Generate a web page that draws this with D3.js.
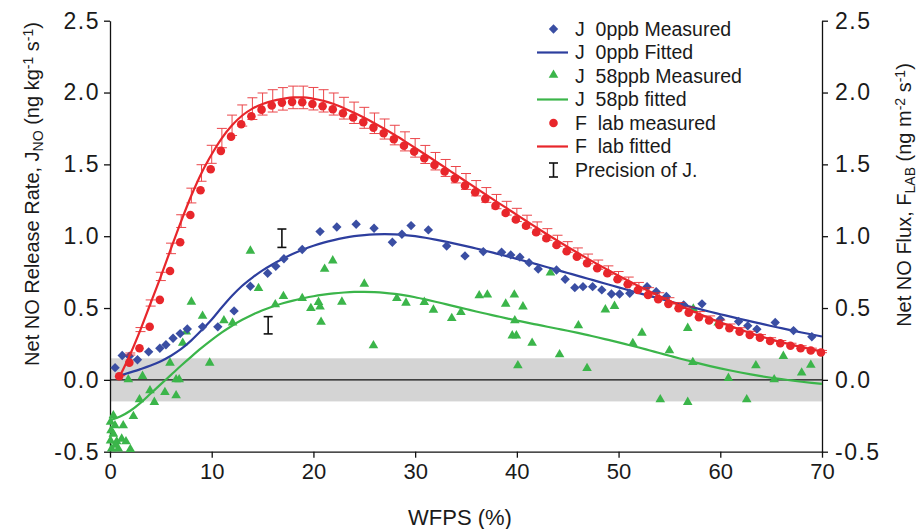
<!DOCTYPE html>
<html>
<head>
<meta charset="utf-8">
<script src="https://cdn.jsdelivr.net/npm/d3@7"></script>
<style>
  body { margin: 0; background: #fff; }
  svg text { font-family: "Liberation Sans", Arial, Helvetica, sans-serif; fill: #1a1a1a; }
</style>
</head>
<body>
<svg id="chart" width="919" height="529"></svg>
<script>
// ---- Axis ticks ----
const xTicks = [0, 10, 20, 30, 40, 50, 60, 70];
const yTicks = [-0.5, 0.0, 0.5, 1.0, 1.5, 2.0, 2.5];

// ---- Fitted curves (sampled every 1 % WFPS) ----
const fitWfps = [0,1,2,3,4,5,6,7,8,9,10,11,12,13,14,15,16,17,18,19,20,21,22,23,24,25,26,27,28,29,30,
  31,32,33,34,35,36,37,38,39,40,41,42,43,44,45,46,47,48,49,50,51,52,53,54,55,56,57,58,59,60,
  61,62,63,64,65,66,67,68,69,70];

const flabFitted = [null,0.03,0.18,0.35,0.535,0.72,0.915,1.105,1.283,1.44,1.57,1.683,1.772,1.84,1.888,1.92,
  1.942,1.956,1.966,1.966,1.957,1.942,1.92,1.891,1.859,1.824,1.786,1.746,1.704,1.66,1.615,
  1.569,1.522,1.475,1.428,1.381,1.334,1.287,1.241,1.195,1.148,1.102,1.057,1.012,0.968,0.925,
  0.883,0.842,0.802,0.763,0.725,0.688,0.652,0.617,0.583,0.55,0.518,0.487,0.457,0.428,0.40,
  0.374,0.349,0.325,0.303,0.282,0.263,0.245,0.228,0.212,0.197];

const j0Fitted = [null,0.03,0.052,0.075,0.1,0.13,0.168,0.215,0.275,0.345,0.42,0.505,0.585,0.655,0.712,0.762,
  0.805,0.843,0.877,0.907,0.933,0.955,0.973,0.988,1.0,1.008,1.013,1.015,1.013,1.008,1.0,
  0.989,0.976,0.962,0.947,0.931,0.914,0.897,0.879,0.861,0.842,0.823,0.804,0.784,0.764,0.744,
  0.724,0.704,0.684,0.664,0.644,0.624,0.604,0.585,0.566,0.547,0.528,0.51,0.492,0.474,0.457,
  0.44,0.423,0.407,0.391,0.375,0.36,0.345,0.33,0.316,0.302];

const j58Fitted = [-0.28,-0.255,-0.215,-0.16,-0.095,-0.03,0.035,0.1,0.162,0.222,0.278,0.33,0.377,0.418,0.454,0.485,
  0.511,0.533,0.552,0.568,0.582,0.593,0.602,0.608,0.612,0.613,0.611,0.606,0.598,0.588,0.575,
  0.56,0.544,0.527,0.51,0.493,0.476,0.46,0.444,0.428,0.413,0.398,0.384,0.37,0.356,0.342,
  0.327,0.311,0.295,0.278,0.261,0.243,0.225,0.206,0.187,0.168,0.149,0.131,0.113,0.096,0.08,
  0.065,0.051,0.038,0.026,0.015,0.005,-0.004,-0.013,-0.021,-0.028];

// relative precision of the lab flux, shown as error bars on its fitted curve
const flabRelPrecision = 0.04;

// ---- F lab measured ----
const flabWfps = [0.9,1.9,2.9,3.9,4.9,5.9,6.9,7.9,8.9,9.9,10.9,11.9,12.9,13.9,14.9,15.9,16.9,17.9,18.9,19.9,
  20.9,21.9,22.9,23.9,24.9,25.9,26.9,27.9,28.9,29.9,30.9,31.9,32.9,33.9,34.9,35.9,36.9,37.9,38.9,39.9,
  40.9,41.9,42.9,43.9,44.9,45.9,46.9,47.9,48.9,49.9,50.9,51.9,52.9,53.9,54.9,55.9,56.9,57.9,58.9,59.9,
  60.9,61.9,62.9,63.9,64.9,65.9,66.9,67.9,68.9,69.9];
const flabMeasured = [0.025,0.12,0.22,0.37,0.557,0.758,0.958,1.148,1.32,1.466,1.594,1.693,1.779,1.835,1.881,1.91,1.93,1.935,1.932,1.92,
  1.905,1.884,1.856,1.826,1.793,1.756,1.717,1.675,1.63,1.589,1.543,1.496,1.45,1.401,1.352,1.306,1.26,1.211,1.162,1.116,
  1.073,1.028,0.986,0.939,0.895,0.858,0.812,0.777,0.742,0.70,0.666,0.626,0.591,0.561,0.529,0.499,0.468,0.436,0.413,0.383,
  0.36,0.336,0.313,0.294,0.271,0.255,0.237,0.22,0.204,0.19];

// ---- J 0ppb measured ----
const j0Wfps = [0.5,1.2,1.9,2.7,3.8,4.9,5.5,6.2,6.9,7.6,9.1,10.6,12.2,13.8,15.5,16.3,17.1,18.9,20.65,22.3,
  24.2,25.96,27.76,28.7,29.6,31.3,33.1,34.9,36.7,38.5,39.4,40.3,41.2,42.1,43.9,44.75,45.7,46.5,47.45,48.35,
  49.3,50.1,51.1,52.8,53.7,54.7,56.4,58.2,60.0,61.8,62.7,63.6,65.4,67.2,69.0];
const j0Measured = [0.085,0.17,0.165,0.14,0.195,0.22,0.244,0.29,0.322,0.354,0.369,0.369,0.48,0.652,0.742,0.791,0.843,0.907,1.032,1.064,
  1.083,1.055,0.958,1.014,1.074,1.044,0.932,0.863,0.893,0.888,0.87,0.854,0.816,0.772,0.765,0.70,0.642,0.649,0.649,0.626,
  0.598,0.598,0.603,0.649,0.614,0.58,0.522,0.529,0.422,0.406,0.376,0.353,0.399,0.343,0.30];

// ---- J 58ppb measured ----
const j58Wfps = [0.05,0.33,0.49,0.1,0.33,0.05,0.66,1.3,1.15,1.57,2.3,2.0,0.16,0.82,0.55,
  1.8,2.9,3.2,3.93,4.36,5.4,5.9,6.5,6.5,6.8,7.15,7.5,8.0,9.1,9.8,
  11.2,12.05,13.8,14.6,16.25,17.05,18.9,19.75,20.5,20.65,20.75,21.1,21.9,22.8,25.0,
  25.9,28.2,29.1,30.9,31.8,33.6,34.5,36.3,37.1,38.9,39.75,40.6,39.8,39.55,39.95,
  41.5,40.1,43.3,44.2,46.05,46.9,48.7,49.6,51.4,52.3,54.1,55.0,56.8,56.8,57.3,
  57.35,59.8,60.8,62.6,63.5,65.3,66.2,68.0,68.9];
const j58Measured = [-0.30,-0.255,-0.325,-0.36,-0.383,-0.43,-0.436,-0.325,-0.418,-0.436,-0.26,-0.49,-0.487,-0.487,-0.46,
  -0.005,-0.144,0.019,-0.081,-0.162,-0.093,0.111,-0.116,-0.005,-0.005,0.25,0.328,0.536,0.438,0.111,
  0.406,0.39,0.891,0.631,0.518,0.575,0.561,0.492,0.534,0.502,0.396,0.765,0.823,0.536,0.661,
  0.232,0.561,0.529,0.534,0.48,0.422,0.464,0.58,0.585,0.522,0.585,0.503,0.406,0.301,0.301,
  0.25,0.093,0.738,0.17,0.371,0.074,0.482,0.506,0.248,0.32,-0.144,0.197,0.353,-0.162,0.116,
  0.487,0.39,0.005,-0.144,0.093,-0.005,0.158,0.042,0.097];

// ---- Precision of J (two reference bars) ----
const precisionWfps = [16.9, 15.55];
const precisionLow  = [0.922, 0.32];
const precisionHigh = [1.05, 0.44];

// ---- Noise band around zero ----
const bandLow = -0.15, bandHigh = 0.15;

// ---- Legend entries ----
const legendLabels = ["J  0ppb Measured", "J  0ppb Fitted", "J  58ppb Measured", "J  58pb fitted",
  "F  lab measured", "F  lab fitted", "Precision of J."];

// ---------------------------------------------------------------
const blue = "#3a4ea3", blueLine = "#2d3e9e";
const green = "#3bb54a";
const red = "#e8262b";

const svg = d3.select("#chart");
const x = d3.scaleLinear().domain([0, 70]).range([110, 822]);
const y = d3.scaleLinear().domain([-0.5, 2.5]).range([451.7, 20.7]);

// grey band and zero line
svg.append("rect")
  .attr("x", x(0)).attr("width", x(70) - x(0))
  .attr("y", y(bandHigh)).attr("height", y(bandLow) - y(bandHigh))
  .attr("fill", "#d4d4d4");
svg.append("line")
  .attr("x1", x(0)).attr("x2", x(70)).attr("y1", y(0)).attr("y2", y(0))
  .attr("stroke", "#111").attr("stroke-width", 1.3);

// axes
function styleAxis(g, size, spacing) {
  g.selectAll("path.domain").attr("stroke", "#111").attr("stroke-width", 1.3);
  g.selectAll(".tick line").attr("stroke", "#111").attr("stroke-width", 1.3);
  g.selectAll(".tick text").style("font-size", size).attr("fill", "#1a1a1a")
    .style("letter-spacing", spacing)
    .style("font-family", '"Liberation Sans", Arial, sans-serif');
}
const fmtY = d => d.toFixed(1);

svg.append("g").attr("transform", `translate(0,${y(-0.5)})`)
  .call(d3.axisBottom(x).tickValues(xTicks).tickSize(6).tickSizeOuter(0).tickPadding(6).tickFormat(d => d))
  .call(g => styleAxis(g, "22px", "0px"));
svg.append("g").attr("transform", `translate(${x(0)},0)`)
  .call(d3.axisLeft(y).tickValues(yTicks).tickSize(6).tickSizeOuter(0).tickPadding(4).tickFormat(fmtY))
  .call(g => styleAxis(g, "23px", "1.5px"));
svg.append("g").attr("transform", `translate(${x(70)},0)`)
  .call(d3.axisRight(y).tickValues(yTicks).tickSize(6).tickSizeOuter(0).tickPadding(7).tickFormat(fmtY))
  .call(g => styleAxis(g, "23px", "1.5px"));

// axis titles
svg.append("text")
  .attr("x", x(35) - 6).attr("y", 525)
  .attr("text-anchor", "middle").style("font-size", "22px")
  .text("WFPS (%)");

function richTitle(cx, cy, parts) {
  const t = svg.append("text")
    .attr("transform", `translate(${cx},${cy}) rotate(-90)`)
    .attr("text-anchor", "middle").style("font-size", "20px");
  parts.forEach(p => {
    const s = t.append("tspan").text(p.t);
    if (p.sub) s.attr("baseline-shift", "-28%").style("font-size", "14px");
    if (p.sup) s.attr("baseline-shift", "45%").style("font-size", "14px");
  });
  return t;
}
richTitle(39, 194, [
  {t: "Net NO Release Rate, J"}, {t: "NO", sub: true}, {t: " (ng kg"}, {t: "-1", sup: true},
  {t: " s"}, {t: "-1", sup: true}, {t: ")"}
]);
richTitle(911, 195, [
  {t: "Net NO Flux, F"}, {t: "LAB", sub: true}, {t: " (ng m"}, {t: "-2", sup: true},
  {t: " s"}, {t: "-1", sup: true}, {t: ")"}
]);

// plotting helpers
const fitLine = vals => d3.line()
  .defined((d, i) => vals[i] !== null)
  .x(d => x(d)).y((d, i) => y(vals[i]))
  .curve(d3.curveMonotoneX);

const diamond = d3.symbol().type(d3.symbolSquare).size(44)();
const triangle = d3.symbol().type(d3.symbolTriangle).size(40)();
const circle = d3.symbol().type(d3.symbolCircle).size(58)();

// J 58ppb
svg.append("path").datum(fitWfps).attr("d", fitLine(j58Fitted))
  .attr("fill", "none").attr("stroke", green).attr("stroke-width", 2.2);
svg.append("g").selectAll("path").data(j58Wfps).join("path")
  .attr("d", triangle)
  .attr("transform", (d, i) => `translate(${x(d)},${y(j58Measured[i]) - 1})`)
  .attr("fill", green);

// J 0ppb
svg.append("path").datum(fitWfps).attr("d", fitLine(j0Fitted))
  .attr("fill", "none").attr("stroke", blueLine).attr("stroke-width", 2.2);
svg.append("g").selectAll("path").data(j0Wfps).join("path")
  .attr("d", diamond)
  .attr("transform", (d, i) => `translate(${x(d)},${y(j0Measured[i])}) rotate(45)`)
  .attr("fill", blue);

// F lab: error bars on the fitted curve
const bars = svg.append("g").attr("stroke", red).attr("stroke-width", 1).attr("opacity", 0.85);
fitWfps.forEach((w, i) => {
  const v = flabFitted[i];
  if (v === null) return;
  const e = v * flabRelPrecision;
  const px = x(w), top = y(v + e), bot = y(v - e);
  bars.append("line").attr("x1", px).attr("x2", px).attr("y1", top).attr("y2", bot);
  bars.append("line").attr("x1", px - 5).attr("x2", px + 5).attr("y1", top).attr("y2", top);
  bars.append("line").attr("x1", px - 5).attr("x2", px + 5).attr("y1", bot).attr("y2", bot);
});
svg.append("path").datum(fitWfps).attr("d", fitLine(flabFitted))
  .attr("fill", "none").attr("stroke", red).attr("stroke-width", 2.2);
svg.append("g").selectAll("path").data(flabWfps).join("path")
  .attr("d", circle)
  .attr("transform", (d, i) => `translate(${x(d)},${y(flabMeasured[i])})`)
  .attr("fill", red);

// precision-of-J bars
function ibar(g, px, top, bot, half) {
  g.append("line").attr("x1", px).attr("x2", px).attr("y1", top).attr("y2", bot);
  g.append("line").attr("x1", px - half).attr("x2", px + half).attr("y1", top).attr("y2", top);
  g.append("line").attr("x1", px - half).attr("x2", px + half).attr("y1", bot).attr("y2", bot);
}
const pg = svg.append("g").attr("stroke", "#111").attr("stroke-width", 1.6);
precisionWfps.forEach((w, i) => ibar(pg, x(w), y(precisionHigh[i]), y(precisionLow[i]), 4.5));

// legend
const lg = svg.append("g");
const rowY = i => 29 + 23.5 * i;
const lx = 553.5;
lg.append("path").attr("d", diamond).attr("transform", `translate(${lx},${rowY(0)}) rotate(45)`).attr("fill", blue);
lg.append("line").attr("x1", 537).attr("x2", 568).attr("y1", rowY(1)).attr("y2", rowY(1))
  .attr("stroke", blueLine).attr("stroke-width", 2.2);
lg.append("path").attr("d", triangle).attr("transform", `translate(${lx},${rowY(2) - 1})`).attr("fill", green);
lg.append("line").attr("x1", 537).attr("x2", 568).attr("y1", rowY(3)).attr("y2", rowY(3))
  .attr("stroke", green).attr("stroke-width", 2.2);
lg.append("path").attr("d", circle).attr("transform", `translate(${lx},${rowY(4)})`).attr("fill", red);
lg.append("line").attr("x1", 537).attr("x2", 568).attr("y1", rowY(5)).attr("y2", rowY(5))
  .attr("stroke", red).attr("stroke-width", 2.2);
const lgb = lg.append("g").attr("stroke", "#111").attr("stroke-width", 1.6);
ibar(lgb, lx, rowY(6) - 7, rowY(6) + 7, 4.5);

lg.selectAll("text.lab").data(legendLabels).join("text")
  .attr("class", "lab")
  .attr("x", 575).attr("y", (d, i) => rowY(i) + 6.5)
  .style("font-size", "19.5px").style("white-space", "pre")
  .attr("xml:space", "preserve")
  .text(d => d);
</script>
</body>
</html>
